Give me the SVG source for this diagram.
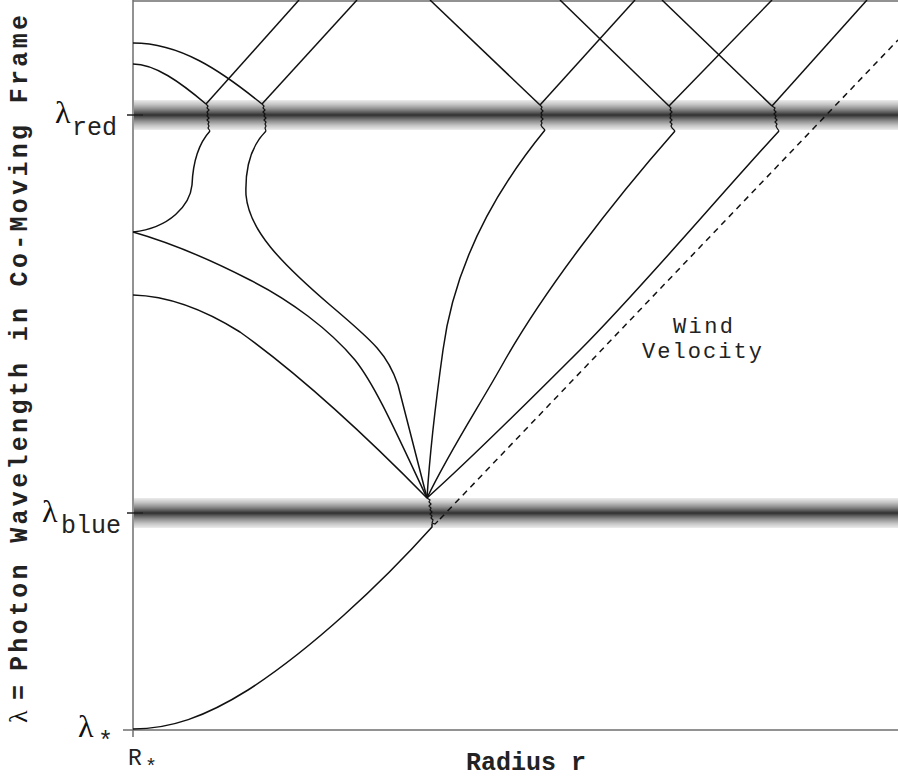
<svg xmlns="http://www.w3.org/2000/svg" width="898" height="780" viewBox="0 0 898 780">
<defs>
<linearGradient id="band" x1="0" y1="0" x2="0" y2="1">
<stop offset="0" stop-color="#ececec"/>
<stop offset="0.15" stop-color="#c4c4c4"/>
<stop offset="0.3" stop-color="#8e8e8e"/>
<stop offset="0.42" stop-color="#585858"/>
<stop offset="0.5" stop-color="#303030"/>
<stop offset="0.58" stop-color="#585858"/>
<stop offset="0.7" stop-color="#8e8e8e"/>
<stop offset="0.85" stop-color="#c4c4c4"/>
<stop offset="1" stop-color="#ececec"/>
</linearGradient>
</defs>
<style>
.ax{stroke:#6e6e6e;stroke-width:1.5;fill:none}
.tick{stroke:#222;stroke-width:1.5}
.c{stroke:#111;stroke-width:1.5;fill:none;stroke-linejoin:round}
.z{stroke:#111;stroke-width:1.2;fill:none}
.dash{stroke:#111;stroke-width:1.5;fill:none;stroke-dasharray:6 5}
.lam{font-family:"Liberation Serif",serif;fill:#111}
.mono{font-family:"Liberation Mono",monospace;fill:#222}
.bold{font-family:"Liberation Mono",monospace;font-weight:bold;fill:#222}
</style>
<rect width="898" height="780" fill="#fff"/>
<g id="bands">
<rect x="134" y="100" width="764" height="30" fill="url(#band)"/>
<rect x="134" y="498" width="764" height="30" fill="url(#band)"/>
</g>
<g id="axes">
<line class="ax" x1="133" y1="0" x2="133" y2="737"/>
<line class="ax" x1="133" y1="1" x2="898" y2="1"/>
<line class="ax" x1="123" y1="730" x2="898" y2="730"/>
<line class="tick" x1="127" y1="115" x2="143" y2="115"/>
<line class="tick" x1="127" y1="513" x2="143" y2="513"/>
</g>
<g id="connectors">
<path class="c" d="M206,104 L299,0"/>
<path class="c" d="M262,104 L357,0"/>
<path class="c" d="M133,43 C180,43 220,70 262,104"/>
<path class="c" d="M133,64 C155,64 180,82 206,104"/>
<path class="c" d="M430,0 L540,105"/>
<path class="c" d="M540,105 L635,0"/>
<path class="c" d="M560,0 L669,106"/>
<path class="c" d="M669,106 L772,0"/>
<path class="c" d="M662,0 L772,106"/>
<path class="c" d="M772,106 L867,0"/>
<polyline class="z" points="206,104 208,106 207,108 209,110 207,112 208,114 207,116 209,118 207,120 209,122 208,124 209,126 208,128 210,131"/>
<polyline class="z" points="262,104 264,106 263,108 265,110 263,112 265,114 264,116 266,118 264,120 266,122 265,124 266,126 265,128 266,131"/>
<polyline class="z" points="540,105 542,107 541,109 543,111 541,113 542,115 541,117 543,119 541,121 542,123 541,125 542,127 545,130"/>
<polyline class="z" points="669,106 671,108 670,110 672,112 670,114 671,116 670,118 672,120 670,122 672,124 671,126 672,128 675,131"/>
<polyline class="z" points="772,106 775,108 774,110 776,112 774,114 776,116 775,118 777,120 775,122 777,124 776,126 777,128 779,131"/>
<path class="c" d="M210,131 C200,142 193,160 192,185 C190,205 170,228 133,232"/>
<path class="c" d="M266,131 C250,147 245,170 246,195 C249,230 280,262 330,305 C375,343 388,355 398,385 L427,498"/>
<path class="c" d="M133,232 C175,244 215,262 250,280 C290,300 330,330 355,360 C375,385 395,430 427,498"/>
<path class="c" d="M133,295 C170,296 205,310 240,332 C300,375 370,440 427,498"/>
<path class="c" d="M545,130 C500,185 455,260 443,350 C436,400 430,450 427,498"/>
<path class="c" d="M675,131 C610,205 545,290 505,360 C480,405 450,450 427,498"/>
<path class="c" d="M779,131 C720,195 640,290 580,350 C530,400 475,455 427,498"/>
<polyline class="z" points="427,498 430,500 429,502 431,504 429,506 431,508 430,510 432,512 430,514 432,516 431,518 433,520 432,523 435,524 438,521"/>
<path class="c" d="M432,524 L432,527 C380,585 310,650 248,690 C205,717 170,729 133,729"/>
<path class="dash" d="M440,519 L898,40"/>
</g>
<g id="labels">
<text class="lam" x="55" y="123" font-size="32">λ</text>
<text class="mono" x="72" y="135" font-size="25">red</text>
<text class="lam" x="42" y="522" font-size="32">λ</text>
<text class="mono" x="61" y="533" font-size="25">blue</text>
<text class="lam" x="78" y="737" font-size="32">λ</text>
<text class="mono" x="98" y="749" font-size="25">*</text>
<text class="mono" x="128" y="765" font-size="23">R</text>
<text class="mono" x="145" y="773" font-size="20">*</text>
<text class="mono" x="673" y="333" font-size="22" textLength="60" lengthAdjust="spacing">Wind</text>
<text class="mono" x="642" y="358" font-size="22" textLength="120" lengthAdjust="spacing">Velocity</text>
<text class="bold" x="466" y="770" font-size="25">Radius r</text>
<g id="yaxis-label" transform="rotate(-90)">
<text class="lam" x="-723" y="27" font-size="26">λ</text>
<text class="bold" x="-700" y="27" font-size="25">=</text>
<text class="bold" x="-671" y="27" font-size="25" textLength="656" lengthAdjust="spacing">Photon Wavelength in Co-Moving Frame</text>
</g>
</g>
</svg>
